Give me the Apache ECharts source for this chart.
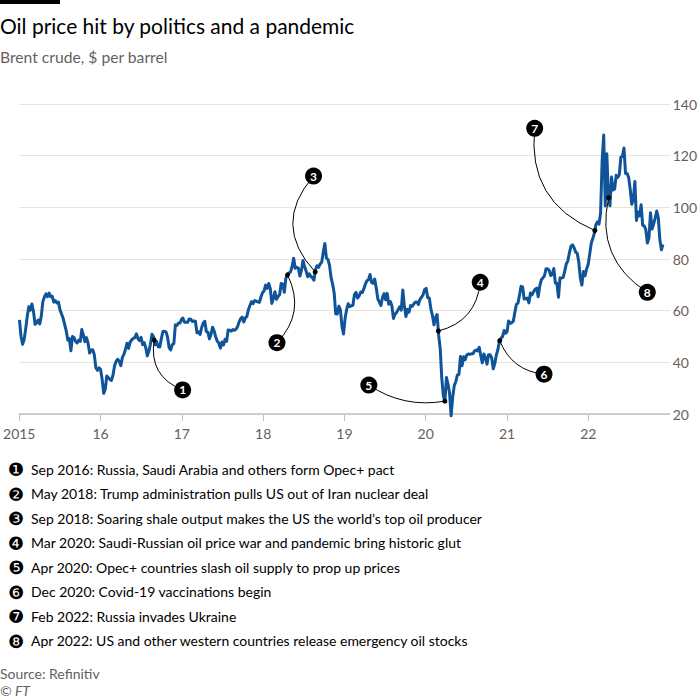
<!DOCTYPE html>
<html><head><meta charset="utf-8">
<script src="https://cdn.jsdelivr.net/npm/echarts@6/dist/echarts.min.js"></script>
<style>html,body{margin:0;padding:0;background:#fff}#c{width:700px;height:700px}</style>
</head><body><div id="c"></div><script>
// ---- Data: Brent crude weekly closes ($/barrel), one array per year (Fridays) ----
const years = [2015, 2016, 2017, 2018, 2019, 2020, 2021, 2022];
const firstFridayDay = [1, 0, 5, 4, 3, 2, 0, 6];
const p2015 = [56.4,50.1,47.0,48.8,53.0, 57.8,61.5,60.2,62.6, 59.7,54.7,55.3,56.4, 54.9,57.9,63.5,65.3, 66.5,65.4,66.8,65.4,65.6, 63.3,63.9,63.0,63.3, 60.3,58.7,57.1,54.6,52.2, 48.6,49.2,44.5,50.0, 49.6,48.1,47.5,48.6, 48.1,52.7,50.5,48.0,49.6, 47.4,43.6,44.7,44.9, 43.0,37.9,36.9,37.9];
const p2016 = [37.3,33.6,28.0,29.5,34.7, 34.1,33.4,33.0,35.1, 38.7,40.4,41.2,40.4, 38.7,41.9,43.1,45.1,47.4, 45.4,47.8,48.7,49.3, 49.6,51.0,49.2,48.4, 49.7,46.8,47.6,45.7,42.5, 44.3,47.0,50.9,49.9, 46.8,48.0,46.0,45.9,49.2, 51.9,52.0,51.8,49.7, 45.6,44.8,46.9,47.2, 54.5,54.3,55.2,55.2,56.8];
const p2017 = [57.1,55.5,55.5,55.5, 56.8,56.7,55.8,56.0, 55.9,51.4,51.8,50.8,53.5, 55.2,55.9,51.9,51.7, 49.1,50.8,53.6,52.2, 49.9,48.2,47.4,45.5,47.9, 46.7,48.9,48.1,52.5, 52.4,52.1,52.7,52.4, 52.8,53.8,55.6,56.9,57.5, 55.6,57.2,57.8,60.4, 62.1,63.5,62.7,63.9, 63.7,63.4,63.2,65.3,66.9];
const p2018 = [67.6,69.9,68.6,70.5, 68.6,62.8,64.8,67.3, 64.4,65.5,66.2,70.5,70.3, 67.1,72.6,73.8,74.6, 75.0,77.1,80.3,76.4, 76.8,76.5,73.4,75.6,79.4, 77.1,75.3,73.1,74.3, 73.2,72.8,71.8,75.8,77.4, 76.8,78.1,78.8,82.7, 86.0,80.4,79.8,77.6, 72.8,70.2,66.8,58.8,58.7, 61.7,60.3,53.8,51.0];
const p2019 = [57.1,60.5,62.7,61.6, 61.9,62.1,66.3,67.1, 64.9,65.7,67.2,67.0,68.4, 70.3,71.6,72.0,74.0, 70.9,70.6,72.2,68.7,64.5, 63.3,62.0,65.2,66.6, 64.2,66.7,62.5,63.5, 61.9,57.0,58.6,59.3,60.4, 61.5,60.2,68.0,61.9, 57.7,60.5,59.4,62.0, 61.7,62.5,63.3,63.4,62.4, 64.4,65.2,66.1,68.2];
const p2020 = [68.6,65.0,64.9,60.7,58.2, 54.5,57.3,58.5,50.5, 45.3,33.9,27.0,24.9, 34.1,31.5,28.1,19.3, 26.4,31.0,32.5,35.1,35.3, 42.3,38.7,42.2,41.0, 42.8,43.2,43.1,43.3,43.3, 44.4,44.8,44.4,45.8, 42.7,39.8,43.2,41.9, 39.3,42.9,42.9,41.8,37.5, 39.5,42.8,45.0,48.2, 49.3,50.0,52.3,51.3];
const p2021 = [51.8,56.0,55.1,55.4,55.9, 59.3,62.4,62.9,66.1, 69.4,69.2,64.5,64.6, 64.9,63.0,66.8,66.1,67.3, 68.3,68.7,65.4,69.6, 71.9,72.7,73.5,76.2, 76.2,75.6,73.6,74.1,76.3, 70.7,70.6,65.2,72.7, 72.6,72.9,75.3,78.1, 79.3,82.4,84.9,85.5,84.4, 82.7,82.2,78.9,72.7, 69.9,75.2,73.5,76.1,77.8];
const p2022 = [81.8,86.1,87.9,90.0, 93.3,94.4,93.5,97.9, 118.1,128.0,100.5,120.7, 104.4,100.6,111.7,106.7,107.1, 112.4,111.6,112.6,119.4, 119.7,123.0,113.1,113.1, 111.6,107.0,101.2,103.2,110.0, 94.9,98.2,96.7,101.0, 93.0,92.8,91.4,86.2,88.0, 97.9,91.6,93.5,95.8, 98.6,96.0,87.6,83.6, 85.6];
const pricesByYear = [p2015, p2016, p2017, p2018, p2019, p2020, p2021, p2022];

// ---- Axis ticks ----
const xTicks = [2015, 2016, 2017, 2018, 2019, 2020, 2021, 2022];
const xTickLabels = ['2015', '16', '17', '18', '19', '20', '21', '22'];
const yTicks = [20, 40, 60, 80, 100, 120, 140];

// ---- Annotations ----
const annoNumbers = [1, 2, 3, 4, 5, 6, 7, 8];
const annoDates = [2016.66, 2018.30, 2018.64, 2020.155, 2020.235, 2020.91, 2022.08, 2022.25];
const annoLabelDates = [2017.01, 2018.17, 2018.62, 2020.67, 2019.30, 2021.455, 2021.34, 2022.725];
const annoLabelValues = [29.3, 47.6, 112.1, 71.0, 31.2, 35.4, 130.6, 67.1];
const annoCurve = [-0.4, 0.35, 0.45, -0.35, 0.2, -0.3, 0.37, -0.35];
const noteTexts = [
  'Sep 2016: Russia, Saudi Arabia and others form Opec+ pact',
  'May 2018: Trump administration pulls US out of Iran nuclear deal',
  'Sep 2018: Soaring shale output makes the US the world\u2019s top oil producer',
  'Mar 2020: Saudi-Russian oil price war and pandemic bring historic glut',
  'Apr 2020: Opec+ countries slash oil supply to prop up prices',
  'Dec 2020: Covid-19 vaccinations begin',
  'Feb 2022: Russia invades Ukraine',
  'Apr 2022: US and other western countries release emergency oil stocks'
];
const noteGlyphs = ['\u2776','\u2777','\u2778','\u2779','\u277A','\u277B','\u277C','\u277D'];

// ---- Build series ----
const series = [];
years.forEach((y, i) => {
  pricesByYear[i].forEach((v, k) => series.push([y + (firstFridayDay[i] + 7 * k) / 365, v]));
});
function valueAt(t) {
  for (let i = 1; i < series.length; i++) {
    if (series[i][0] >= t) {
      const a = series[i - 1], b = series[i];
      return a[1] + (b[1] - a[1]) * (t - a[0]) / (b[0] - a[0]);
    }
  }
  return series[series.length - 1][1];
}
const dots = annoDates.map(t => [t, valueAt(t)]);
const labels = annoDates.map((t, i) => [annoLabelDates[i], annoLabelValues[i]]);
const connectors = annoDates.map((t, i) => ({
  coords: [dots[i], labels[i]],
  lineStyle: { curveness: annoCurve[i] }
}));

// ---- Fonts ----
const FONT = 'Lato, "Noto Sans", "DejaVu Sans", sans-serif';
function fit(text, target, weight) {
  const ctx = document.createElement('canvas').getContext('2d');
  ctx.font = (weight || 'normal') + ' 100px ' + FONT;
  return 100 * target / ctx.measureText(text).width;
}
const titleText = 'Oil price hit by politics and a pandemic';
const subText = 'Brent crude, $ per barrel';
const titleSize = fit(titleText, 355);
const subSize = fit(subText, 168);
const noteSize = fit(noteTexts[0], 364);

const graphics = [
  { type: 'rect', shape: { x: 0, y: 0, width: 60, height: 4 }, style: { fill: '#000' } },
  { type: 'text', x: 0, y: 25, style: { text: titleText, fontFamily: FONT, fontSize: titleSize, fill: '#000', verticalAlign: 'middle' } },
  { type: 'text', x: 0, y: 57, style: { text: subText, fontFamily: FONT, fontSize: subSize, fill: '#66605c', verticalAlign: 'middle' } },
  { type: 'text', x: 0, y: 673, style: { text: 'Source: Refinitiv', fontFamily: FONT, fontSize: noteSize, fill: '#66605c', verticalAlign: 'middle' } },
  { type: 'text', x: 0, y: 690, style: { text: '\u00A9 FT', fontFamily: FONT, fontStyle: 'italic', fontSize: noteSize, fill: '#66605c', verticalAlign: 'middle' } }
];
noteTexts.forEach((t, i) => {
  const y = 469 + i * 24.5;
  graphics.push({ type: 'text', x: 8, y: y + 0.5, style: { text: noteGlyphs[i], fontFamily: '"DejaVu Sans"', fontSize: noteSize * 1.3, fill: '#000', verticalAlign: 'middle' } });
  graphics.push({ type: 'text', x: 31, y: y, style: { text: t, fontFamily: FONT, fontSize: noteSize, fill: '#000', verticalAlign: 'middle' } });
});

const chart = echarts.init(document.getElementById('c'), null, { renderer: 'svg' });
chart.setOption({
  animation: false,
  backgroundColor: '#fff',
  grid: { left: 16.5, right: 29, top: 104, bottom: 286, containLabel: false },
  xAxis: {
    type: 'value', min: 2015, max: 2023, interval: 1,
    axisLine: { lineStyle: { color: '#c9bfb5', width: 1.5 } },
    axisTick: { length: 7, lineStyle: { color: '#c9bfb5' }, customValues: xTicks },
    axisLabel: { customValues: xTicks, formatter: v => xTickLabels[xTicks.indexOf(Math.round(v))], color: '#66605c', fontFamily: FONT, fontSize: 14, margin: 12 },
    splitLine: { show: false }
  },
  yAxis: {
    type: 'value', position: 'right', min: 20, max: 140, interval: 20,
    axisLine: { show: false }, axisTick: { show: false },
    axisLabel: { customValues: yTicks, color: '#66605c', fontFamily: FONT, fontSize: 14, margin: 3 },
    splitLine: { lineStyle: { color: '#ebe2d9', width: 1 } }
  },
  graphic: graphics,
  series: [
    { type: 'line', data: series, showSymbol: false, clip: false, z: 2,
      lineStyle: { color: '#0f5499', width: 3, join: 'round' } },
    { type: 'lines', coordinateSystem: 'cartesian2d', polyline: false, z: 3, data: connectors,
      lineStyle: { color: '#000', width: 1, opacity: 1 } },
    { type: 'scatter', data: dots, symbolSize: 5, itemStyle: { color: '#000', opacity: 1 }, z: 4 },
    { type: 'scatter', data: labels, symbolSize: 17, itemStyle: { color: '#000', opacity: 1 }, z: 5,
      label: { show: true, position: 'inside', formatter: p => String(annoNumbers[p.dataIndex]), color: '#fff', fontWeight: 'bold', fontSize: 12, fontFamily: FONT } }
  ]
});
</script></body></html>
